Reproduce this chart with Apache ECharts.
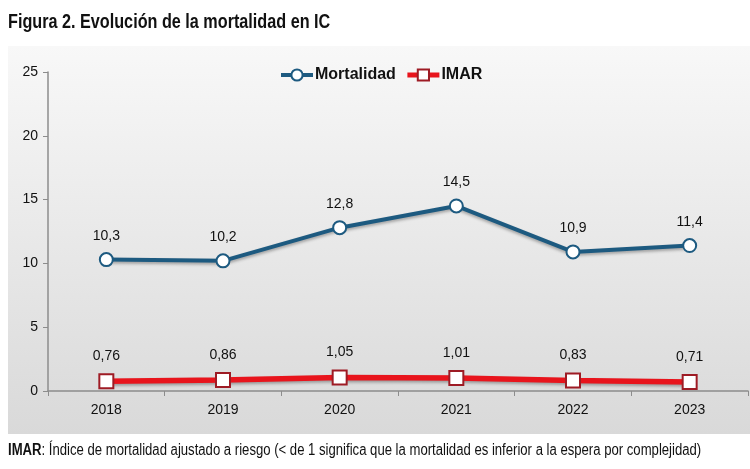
<!DOCTYPE html>
<html>
<head>
<meta charset="utf-8">
<script src="https://cdn.jsdelivr.net/npm/echarts@6/dist/echarts.min.js"></script>
<style>
html,body{margin:0;padding:0;background:#fff;}
#c{width:750px;height:469px;}
</style>
</head>
<body>
<div id="c"></div>
<script>
var categories = ['2018','2019','2020','2021','2022','2023'];
var mortalidad = [10.3, 10.2, 12.8, 14.5, 10.9, 11.4];
var imar = [0.76, 0.86, 1.05, 1.01, 0.83, 0.71];
var yTicks = [0, 5, 10, 15, 20, 25];

var FONT = '"Liberation Sans", Arial, sans-serif';
var chart = echarts.init(document.getElementById('c'));
chart.setOption({
  backgroundColor: '#ffffff',
  textStyle: { fontFamily: FONT },
  graphic: [
    { type: 'rect', z: -10, shape: { x: 8, y: 46, width: 742, height: 388 },
      style: { fill: new echarts.graphic.LinearGradient(0, 0, 0, 1, [
        { offset: 0, color: '#f8f8f8' }, { offset: 1, color: '#d9d9d9' }]) } },
    { type: 'text', x: 8, y: 12, scaleX: 0.81,
      style: { text: 'Figura 2. Evolución de la mortalidad en IC', fontFamily: FONT,
               fontWeight: 'bold', fontSize: 20, fill: '#111' } },
    { type: 'text', x: 8, y: 443, scaleX: 0.82,
      style: { rich: { b: { fontWeight: 'bold', fontSize: 16, fontFamily: FONT, fill: '#111' },
                       n: { fontSize: 16, fontFamily: FONT, fill: '#111' } },
               text: '{b|IMAR}{n|: Índice de mortalidad ajustado a riesgo (< de 1 significa que la mortalidad es inferior a la espera por complejidad)}' } }
  ],
  legend: {
    top: 62, left: 274, itemWidth: 32, itemHeight: 14, itemGap: 9,
    textStyle: { fontFamily: FONT, fontWeight: 'bold', fontSize: 16, color: '#111', padding: [0, 0, 0, -3] },
    data: [
      { name: 'Mortalidad', lineStyle: { width: 4, color: '#1d5a80' } },
      { name: 'IMAR', lineStyle: { width: 5, color: '#e8141c' } }
    ]
  },
  grid: { left: 48, top: 72, right: 2, bottom: 78 },
  xAxis: {
    type: 'category', data: categories, boundaryGap: true,
    axisLine: { lineStyle: { color: '#8c8c8c', width: 1.5 } },
    axisTick: { show: true, length: 5, lineStyle: { color: '#8c8c8c' } },
    axisLabel: { fontFamily: FONT, fontSize: 14, color: '#111', margin: 12 }
  },
  yAxis: {
    type: 'value', min: 0, max: 25, interval: 5,
    splitLine: { show: false },
    axisLine: { show: true, lineStyle: { color: '#8c8c8c', width: 1.5 } },
    axisTick: { show: true, length: 5, lineStyle: { color: '#8c8c8c' } },
    axisLabel: { fontFamily: FONT, fontSize: 14, color: '#111', margin: 10,
                 formatter: function (v) { return yTicks.indexOf(v) >= 0 ? String(v) : ''; } }
  },
  series: [
    {
      name: 'Mortalidad', type: 'line', data: mortalidad,
      symbol: 'circle', symbolSize: 13,
      lineStyle: { color: '#1d5a80', width: 4, shadowColor: 'rgba(0,0,0,0.3)', shadowBlur: 3, shadowOffsetY: 2 },
      itemStyle: { color: '#ffffff', borderColor: '#1d5a80', borderWidth: 2 },
      label: { show: true, position: 'top', distance: 9, fontFamily: FONT, fontSize: 14, color: '#111',
               formatter: function (p) { return p.value.toFixed(1).replace('.', ','); } }
    },
    {
      name: 'IMAR', type: 'line', data: imar,
      symbol: 'rect', symbolSize: 14,
      lineStyle: { color: '#e8141c', width: 5.5, shadowColor: 'rgba(0,0,0,0.3)', shadowBlur: 3, shadowOffsetY: 2 },
      itemStyle: { color: '#ffffff', borderColor: '#9e1b24', borderWidth: 2 },
      label: { show: true, position: 'top', distance: 10, fontFamily: FONT, fontSize: 14, color: '#111',
               formatter: function (p) { return p.value.toFixed(2).replace('.', ','); } }
    }
  ]
});
</script>
</body>
</html>
